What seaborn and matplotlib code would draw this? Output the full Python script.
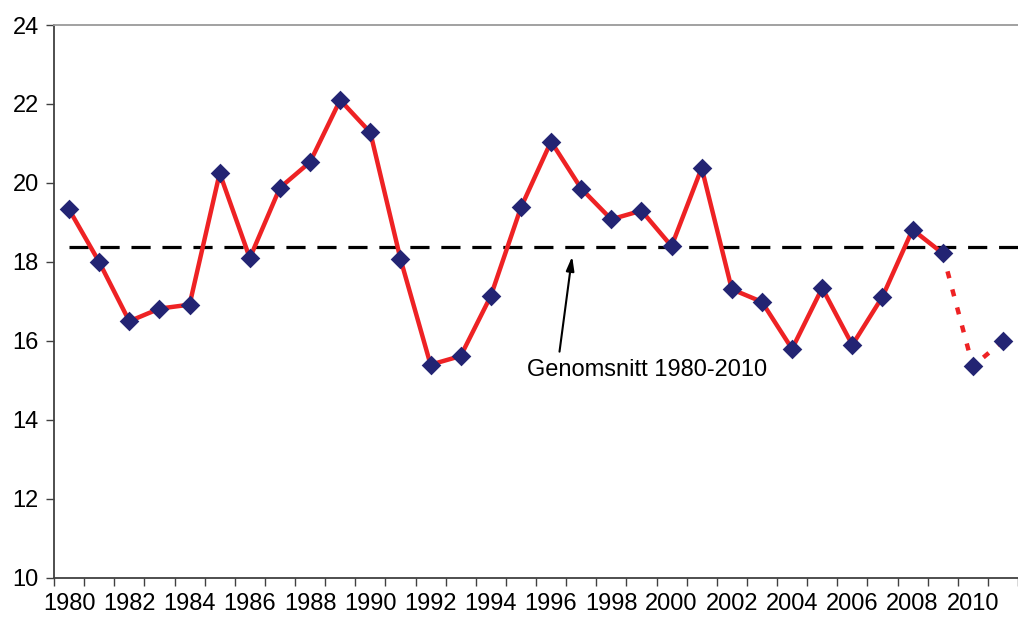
import matplotlib
matplotlib.use("Agg")
import matplotlib.pyplot as plt
import seaborn as sns
import pandas as pd

years = list(range(1980, 2012))
values = [19.33, 18.0, 16.5, 16.82, 16.92, 20.25, 18.1, 19.88, 20.53, 22.1, 21.28,
          18.08, 15.4, 15.62, 17.14, 19.38, 21.05, 19.86, 19.08, 19.3, 18.4, 20.38,
          17.31, 16.99, 15.8, 17.34, 15.9, 17.12, 18.82, 18.22, 15.36, 16.0]
mean_value = 18.38
label_years = list(range(1980, 2011, 2))
annot_text = "Genomsnitt 1980-2010"

sns.set_theme(style="white")
plt.rcParams["font.family"] = ["Liberation Sans", "DejaVu Sans"]

df = pd.DataFrame({"year": years, "value": values})
df["pos"] = range(len(df))
solid = df[df["year"] <= 2009]
dotted = df[df["year"] >= 2009]

fig = plt.figure(figsize=(10.18, 6.21), dpi=100)
ax = fig.add_axes([54 / 1018, 1 - 578 / 621, 1 - 54 / 1018, (578 - 25) / 621])

red = "#ee2224"
navy = "#232473"
fs = 17

ax.plot([0, len(df) + 1], [mean_value, mean_value], color="black", lw=2.3,
        dashes=(6, 3.7), zorder=1)
sns.lineplot(data=solid, x="pos", y="value", color=red, lw=3.2, ax=ax, zorder=2)
sns.lineplot(data=dotted, x="pos", y="value", color=red, lw=3.2, ax=ax, zorder=2,
             linestyle=(0, (1.6, 2.6)))
sns.scatterplot(data=df, x="pos", y="value", marker="D", s=100, color=navy,
                edgecolor=navy, linewidth=0, ax=ax, zorder=3)

ax.annotate("", xy=(16.7, 18.14), xytext=(16.28, 15.73),
            arrowprops=dict(arrowstyle="-|>,head_length=0.7,head_width=0.2",
                            color="black", lw=1.5, shrinkA=0, shrinkB=0))
ax.text(19.2, 15.26, annot_text, fontsize=fs, ha="center", va="center", color="black")

ax.set_xlim(-0.5, (1018 - 69) / 30.53)
ax.set_ylim(10, 24)
ax.set_yticks(range(10, 25, 2))
ax.set_xticks([y - 1980 for y in label_years])
ax.set_xticklabels([str(y) for y in label_years])
ax.set_xticks([i - 0.5 for i in range(len(df) + 1)], minor=True)
ax.tick_params(axis="x", which="major", length=0, pad=11, labelsize=fs, colors="black")
ax.tick_params(axis="x", which="minor", length=6, width=1, color="#404040", direction="out",
               bottom=True)
ax.tick_params(axis="y", length=6, width=1, color="#404040", direction="out", left=True,
               pad=5, labelsize=fs, labelcolor="black")
ax.set_xlabel("")
ax.set_ylabel("")

for side in ["left", "bottom"]:
    ax.spines[side].set_color("#404040")
    ax.spines[side].set_linewidth(1.3)
ax.spines["top"].set_color("#9a9a9a")
ax.spines["top"].set_linewidth(1.3)
ax.spines["right"].set_visible(False)

fig.savefig("out.png", dpi=100)
